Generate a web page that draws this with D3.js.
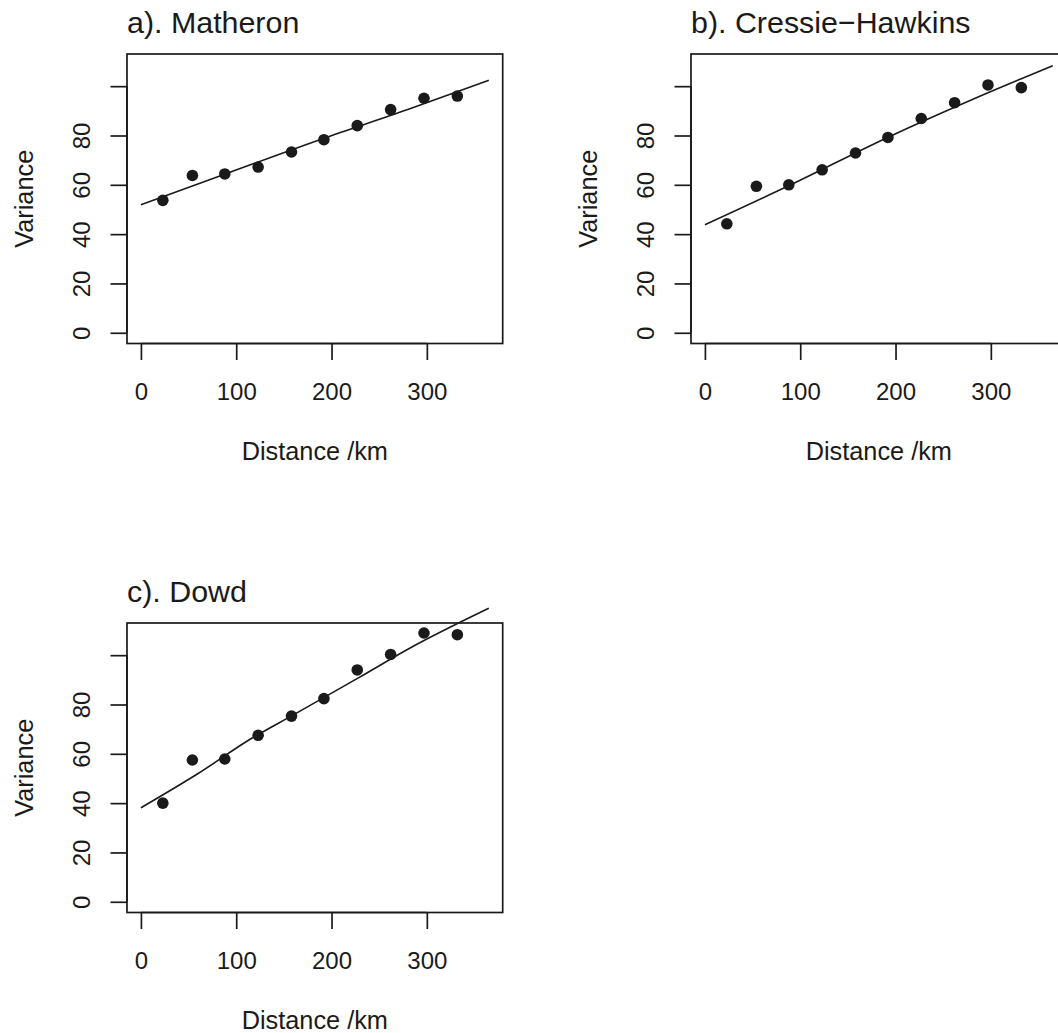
<!DOCTYPE html>
<html>
<head>
<meta charset="utf-8">
<script src="https://cdn.jsdelivr.net/npm/d3@7"></script>
<style>
  html, body { margin: 0; padding: 0; background: #fff; overflow: hidden; }
  svg { display: block; }
  text { font-family: "Liberation Sans", Arial, Helvetica, sans-serif; fill: #1a1a1a; }
</style>
</head>
<body>
<svg id="chart" width="1058" height="1033"></svg>
<script>
// ---- data ----
const distances = [23, 54, 88, 123, 158, 192, 227, 262, 297, 332];
const matheron = [53.7, 63.8, 64.4, 67.2, 73.3, 78.3, 84.0, 90.5, 95.1, 96.0];
const cressieHawkins = [44.2, 59.4, 60.0, 66.1, 72.9, 79.2, 86.9, 93.3, 100.5, 99.4];
const dowd = [40.0, 57.5, 57.9, 67.5, 75.3, 82.4, 94.0, 100.3, 109.0, 108.3];

// fitted model curves, sampled (distance, variance)
const fitDist = [0, 90, 190, 280, 365];
const fitMatheron = [51.9, 64.6, 78.6, 90.5, 102.4];
const fitCressieHawkins = [43.8, 60.0, 78.9, 94.5, 108.3];
const fitDowdDist = [0, 60, 115, 160, 230, 282, 365];
const fitDowd = [38.1, 52.0, 66.0, 75.8, 91.2, 102.8, 119.0];

const titles = ["a). Matheron", "b). Cressie\u2212Hawkins", "c). Dowd"];
const xTicks = [0, 100, 200, 300];
const yTicks = [0, 20, 40, 60, 80, 100];
const yTickLabels = ["0", "20", "40", "60", "80", ""];
const xLimits = [0, 365];
const yLimits = [0, 108.7];
const xLabel = "Distance /km";
const yLabel = "Variance";

// ---- layout ----
const svg = d3.select("#chart");
const ink = "#1a1a1a";
const panels = [
  { left: 127, top: 54, title: titles[0], y: matheron, fx: fitDist, fy: fitMatheron },
  { left: 691, top: 54, title: titles[1], y: cressieHawkins, fx: fitDist, fy: fitCressieHawkins },
  { left: 127, top: 623, title: titles[2], y: dowd, fx: fitDowdDist, fy: fitDowd }
];
const W = 375.7, H = 289.5;
const tickFont = 24, labFont = 25.3, titleFont = 30.4;

function ext(lim) { const d = lim[1] - lim[0]; return [lim[0] - 0.04 * d, lim[1] + 0.04 * d]; }

panels.forEach((p, i) => {
  const g = svg.append("g").attr("transform", `translate(${p.left},${p.top})`);
  const x = d3.scaleLinear().domain(ext(xLimits)).range([0, W]);
  const y = d3.scaleLinear().domain(ext(yLimits)).range([H, 0]);

  // fitted line
  const line = d3.line().x(d => x(d[0])).y(d => y(d[1])).curve(d3.curveMonotoneX);
  g.append("path")
    .datum(p.fx.map((d, k) => [d, p.fy[k]]))
    .attr("d", line)
    .attr("fill", "none").attr("stroke", ink).attr("stroke-width", 1.6);

  // points
  g.selectAll("circle.pt").data(distances).enter().append("circle")
    .attr("class", "pt")
    .attr("cx", d => x(d))
    .attr("cy", (d, k) => y(p.y[k]))
    .attr("r", 5.8)
    .attr("fill", ink);

  // box
  g.append("rect").attr("x", 0).attr("y", 0).attr("width", W).attr("height", H)
    .attr("fill", "none").attr("stroke", ink).attr("stroke-width", 1.7);

  // x axis
  const xAxis = d3.axisBottom(x).tickValues(xTicks).tickSize(16.5).tickFormat(d3.format("d"));
  const gx = g.append("g").attr("transform", `translate(0,${H})`).call(xAxis);
  gx.select(".domain").attr("d", `M${x(xTicks[0])},0H${x(xTicks[xTicks.length - 1])}`).attr("stroke", ink).attr("stroke-width", 1.7);
  gx.selectAll(".tick line").attr("stroke", ink).attr("stroke-width", 1.7);
  gx.selectAll(".tick text").attr("font-size", tickFont).attr("fill", ink)
    .attr("font-family", "Liberation Sans, Arial, sans-serif")
    .attr("dy", null).attr("y", 56);

  // y axis
  const yAxis = d3.axisLeft(y).tickValues(yTicks).tickSize(16.5).tickFormat((d, k) => yTickLabels[k]);
  const gy = g.append("g").call(yAxis);
  gy.select(".domain").attr("d", `M0,${y(yTicks[0])}V${y(yTicks[yTicks.length - 1])}`).attr("stroke", ink).attr("stroke-width", 1.7);
  gy.selectAll(".tick line").attr("stroke", ink).attr("stroke-width", 1.7);
  gy.selectAll(".tick text").attr("font-size", tickFont).attr("fill", ink)
    .attr("font-family", "Liberation Sans, Arial, sans-serif")
    .attr("x", null).attr("dy", null)
    .attr("text-anchor", "middle")
    .attr("transform", "translate(-37,0) rotate(-90)")
    .attr("y", 0);

  // title
  g.append("text").attr("x", 0).attr("y", -21).attr("font-size", titleFont).text(p.title);

  // axis labels
  g.append("text").attr("x", W / 2).attr("y", H + 116).attr("text-anchor", "middle").attr("font-size", labFont).text(xLabel);
  g.append("text").attr("transform", `translate(-94.3,${H / 2}) rotate(-90)`)
    .attr("text-anchor", "middle").attr("font-size", labFont).text(yLabel);
});
</script>
</body>
</html>
